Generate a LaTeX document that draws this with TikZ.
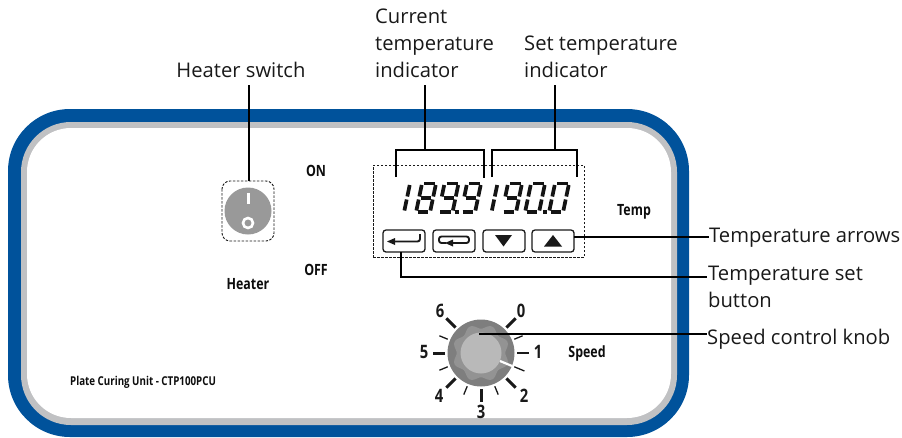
\documentclass[tikz,border=0pt]{standalone}
\usepackage{fontspec}
\setmainfont{Open Sans}
\newfontfamily\panelfont[FakeStretch=0.8]{Open Sans}
\definecolor{panelblue}{HTML}{00529B}
\definecolor{panelgrey}{HTML}{C0C1C3}
\definecolor{knobouter}{HTML}{7E7E7E}
\definecolor{knobmid}{HTML}{939393}
\definecolor{knobinner}{HTML}{B9B9B9}
\definecolor{rockergrey}{HTML}{999999}
\tikzset{
  callout/.style={font=\fontsize{20.2}{27}\selectfont, text=black!90, inner sep=0pt, align=left},
  paneltext/.style={font=\panelfont\bfseries\fontsize{15.5}{17}\selectfont, text=black!95, inner sep=0pt},
  leader/.style={draw=black, line width=2.7pt},
  thinleader/.style={draw=black, line width=2pt},
  keycap/.style={draw=black!90, line width=1.3pt, rounded corners=3pt, fill=white, minimum width=42pt, minimum height=22pt, inner sep=0pt},
  dashbox/.style={draw=black!90, line width=.9pt, dash pattern=on 2.5pt off 1.5pt},
  seg/.style={draw=black!92, line width=3.7pt},
  major/.style={draw=black!90, line width=3pt},
  minor/.style={draw=black!90, line width=1.3pt},
  dial/.style={font=\panelfont\bfseries\fontsize{18.5}{19}\selectfont, text=black!90, inner sep=0pt},
}
\newcommand{\segdigit}[2]{%
  \foreach \s in {#2}{%
    \if\s a\draw[seg] ({#1+2+6},183.5) -- ({#1+13+6},183.5);\fi
    \if\s b\draw[seg] ({#1+14+5.7},185) -- ({#1+14+3.3},196.5);\fi
    \if\s c\draw[seg] ({#1+14+2.7},199.5) -- ({#1+14+0.4},210.5);\fi
    \if\s d\draw[seg] ({#1+1.5},212) -- ({#1+12},212);\fi
    \if\s e\draw[seg] ({#1+2.7},199.5) -- ({#1+0.4},210.5);\fi
    \if\s f\draw[seg] ({#1+5.7},185) -- ({#1+3.3},196.5);\fi
    \if\s g\draw[seg] ({#1+2+3},198) -- ({#1+12+3},198);\fi
  }}
\begin{document}
\begin{tikzpicture}[x=1pt,y=-1pt]
\useasboundingbox (0,0) rectangle (902,437);
% panel
\fill[panelblue,rounded corners=62pt] (8,109) rectangle (689,437);
\fill[panelgrey,rounded corners=50pt] (21,122) rectangle (677,425);
\fill[white,rounded corners=44pt] (27,128) rectangle (671,418);
% heater
\draw[dashbox,rounded corners=8pt] (222,181) rectangle (274,241);
\node[draw=none,fill=rockergrey,circle,minimum size=47pt,inner sep=0pt] (rocker) at (248,211) {};
\draw[white,line width=3pt] (248,193) -- (248,204);
\draw[white,line width=2.6pt] (248,223) circle[radius=5];
\coordinate (heaterbox) at (249,181);
% display
\node[dashbox,minimum width=211pt,minimum height=92pt,inner sep=0pt] (display) at (478.5,211) {};
\segdigit{390}{b,c}
\segdigit{416}{a,b,c,d,e,f,g}
\segdigit{438.5}{a,b,c,d,f,g}
\segdigit{461}{a,b,c,d,f,g}
\segdigit{477.5}{b,c}
\segdigit{502}{a,b,c,d,f,g}
\segdigit{525}{a,b,c,d,e,f}
\segdigit{549}{a,b,c,d,e,f}
\fill[black!92] (455,209.5) rectangle (459,213.5);
\fill[black!92] (543,209.5) rectangle (547,213.5);
% keys
\node[keycap] (enterkey) at (404,241) {};
\node[keycap] (loopkey) at (454,241) {};
\node[keycap] (downkey) at (504,241) {};
\node[keycap] (upkey) at (553,241) {};
\draw[black!90,line width=1.9pt,rounded corners=2.5pt] (420,234) -- (420,241.5) -- (392,241.5);
\fill[black!90] (387,241.5) -- (395,238) -- (395,245) -- cycle;
\draw[black!90,line width=1.9pt,rounded corners=2.5pt] (446,243) -- (439,243) -- (439,236.5) -- (469,236.5) -- (469,243) -- (450,243);
\fill[black!90] (445,243) -- (453,239.5) -- (453,246.5) -- cycle;
\fill[black!90] (495,235) -- (512,235) -- (503.5,246.5) -- cycle;
\fill[black!90] (544,246.5) -- (562,246.5) -- (553,235) -- cycle;
% knob ticks
\foreach \a/\st/\len in {315/major/13,225/major/13,180/major/12,0/minor/12,45/major/13,135/major/13,90/major/13,22.5/minor/11,-22.5/minor/9,67.5/minor/9,112.5/minor/9,157.5/minor/9,202.5/minor/9}{
  \draw[\st] ({481+36*cos(\a)},{353+36*sin(\a)}) -- ({481+(36+\len)*cos(\a)},{353+(36+\len)*sin(\a)});
}
\node[fill=knobouter,circle,minimum size=67pt,inner sep=0pt] (knob) at (481,353) {};
\fill[knobmid] plot[smooth cycle,samples=96,domain=0:356.25,variable=\t] ({481+(26.5+2.2*cos(8*(\t+22.5)))*cos(\t)},{353+(26.5+2.2*cos(8*(\t+22.5)))*sin(\t)});
\fill[knobinner] (481,353) circle[radius=20.5];
\draw[white,line width=2.2pt] (500,361) -- (512,366);
\coordinate (knobpoint) at (479,334);
% dial numbers
\node[dial] at (521,311) {0};
\node[dial] at (538,352) {1};
\node[dial] at (524,396) {2};
\node[dial] at (481,412) {3};
\node[dial] at (439,396) {4};
\node[dial] at (424,352) {5};
\node[dial] at (440,311) {6};
% panel labels
\node[paneltext] (on) at (316,171) {ON};
\node[paneltext] (off) at (316,270) {OFF};
\node[paneltext] (heaterlbl) at (248,284) {Heater};
\node[paneltext] (templbl) at (634,212) {Temp};
\node[paneltext] (speedlbl) at (587,353) {Speed};
\node[paneltext,font=\panelfont\bfseries\fontsize{12.2}{13}\selectfont,anchor=west] (unit) at (70,382) {Plate Curing Unit - CTP100PCU};
% callouts
\node[callout,anchor=south] (hs) at (241,78) {Heater switch};
\node[callout,anchor=north west] (cur) at (375,9) {Current\\temperature\\indicator};
\node[callout,anchor=north west] (set) at (524,36) {Set temperature\\indicator};
\node[callout,anchor=west] (ta) at (709,238) {Temperature arrows};
\node[callout,anchor=north west] (ts) at (708,266) {Temperature set\\button};
\node[callout,anchor=west] (sk) at (707,339) {Speed control knob};
% leaders
\coordinate (hstem) at (249,85);
\draw[leader] (hstem) -- (heaterbox);
\coordinate (b1) at (396,177); \coordinate (b2) at (484,178); \coordinate (b3) at (492,177); \coordinate (b4) at (577,177);
\draw[leader] (b1) -- (396,150) -- (484,150) -- (b2);
\draw[leader] (b3) -- (492,150) -- (577,150) -- (b4);
\coordinate (cstem) at (425,85); \coordinate (sstem) at (555,85);
\draw[leader] (cstem) -- (425,150);
\draw[leader] (sstem) -- (555,150);
\coordinate (upend) at (574,236.5);
\draw[thinleader] (upend) -- (upend -| ta.west);
\coordinate (enterend) at (401,252);
\draw[thinleader] (enterend) -- (401,277) -- (707,277);
\draw[thinleader] (knobpoint) -- (knobpoint -| sk.west);
\end{tikzpicture}
\end{document}
